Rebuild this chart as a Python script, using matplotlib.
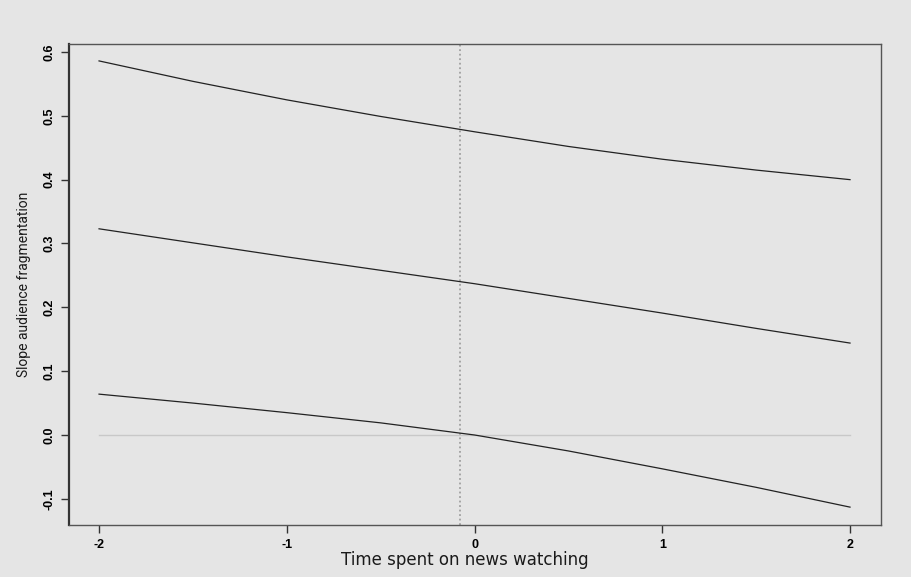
import matplotlib
matplotlib.use('Agg')
from matplotlib import pyplot as plt

# moderator values (time spent on news watching)
news_time = [-2, -1.5, -1, -0.5, 0, 0.5, 1, 1.5, 2]
# conditional slope of audience fragmentation + 95% bounds
slope_upper = [0.586, 0.554, 0.525, 0.499, 0.475, 0.452, 0.432, 0.415, 0.400]
slope_mid = [0.323, 0.301, 0.279, 0.258, 0.237, 0.214, 0.191, 0.167, 0.144]
slope_lower = [0.064, 0.050, 0.035, 0.019, 0.000, -0.025, -0.053, -0.082, -0.113]
x_ticks = [-2, -1, 0, 1, 2]
y_ticks = [-0.1, 0.0, 0.1, 0.2, 0.3, 0.4, 0.5, 0.6]
cutoff = -0.075

bg = '#e5e5e5'
fig = plt.figure(figsize=(9.11, 5.77), dpi=100, facecolor=bg)
ax = fig.add_axes([69/911, 52/577, 812/911, 481/577])
ax.set_facecolor(bg)

ax.plot([news_time[0], news_time[-1]], [0, 0], color='#c8c8c8', lw=1)
ax.axvline(cutoff, color='#a0a0a0', lw=1.3, ls=(0, (1, 1.5)))
ax.plot(news_time, slope_upper, color='#222222', lw=0.9)
ax.plot(news_time, slope_mid, color='#222222', lw=0.9)
ax.plot(news_time, slope_lower, color='#222222', lw=0.9)

ax.set_xlim(-2.16, 2.165)
ax.set_ylim(-0.141, 0.6125)
ax.set_xticks(x_ticks)
ax.set_yticks(y_ticks)
ax.set_xticklabels([str(t) for t in x_ticks])
ax.set_yticklabels(['%.1f' % t for t in y_ticks], rotation=90, va='center')

for s in ax.spines.values():
    s.set_color('#555555')
    s.set_linewidth(1.0)
ax.spines['left'].set_linewidth(1.6)
ax.spines['left'].set_color('#333333')

ax.tick_params(direction='out', length=6, width=1, color='#333333', pad=4)
for lab in ax.get_xticklabels() + ax.get_yticklabels():
    lab.set_fontsize(9)
    lab.set_fontweight('bold')
    lab.set_family(['Liberation Sans', 'DejaVu Sans'])

ax.set_xlabel('Time spent on news watching', fontsize=12, family=['DejaVu Sans'],
              color='#1a1a1a', labelpad=2)
ax.xaxis.set_label_coords(0.488, -0.055)
ax.set_ylabel('Slope audience fragmentation', fontsize=10,
              family=['Liberation Sans Narrow', 'Roboto', 'DejaVu Sans'],
              color='#1a1a1a', labelpad=9, stretch='condensed')

plt.savefig('out.png', dpi=100, facecolor=bg)
